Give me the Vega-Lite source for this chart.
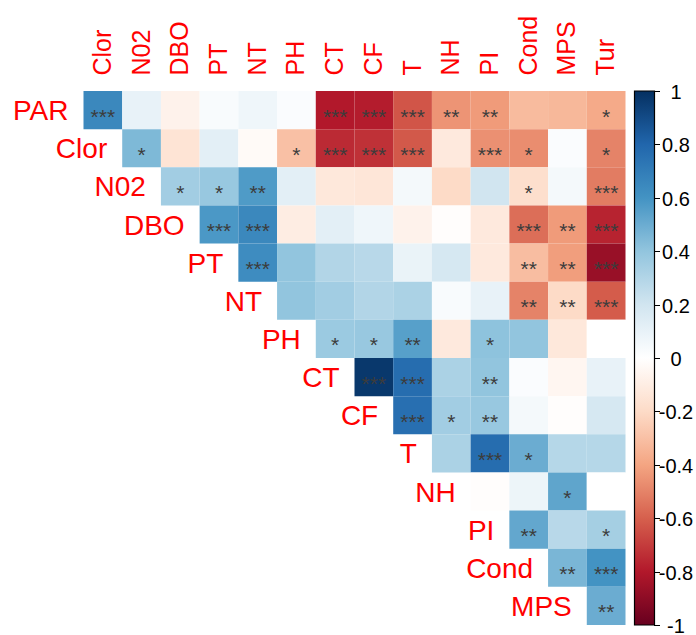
{
  "$schema": "https://vega.github.io/schema/vega-lite/v6.json",
  "autosize": "none",
  "width": 542,
  "height": 534,
  "padding": {"left": 83.5, "top": 91, "right": 70.5, "bottom": 10},
  "background": "white",
  "config": {"view": {"stroke": null}, "font": "Liberation Sans"},
  "datasets": {
    "cells": [
      {"r":"PAR","c":"Clor","v":0.65,"s":"***"},
      {"r":"PAR","c":"N02","v":0.10,"s":""},
      {"r":"PAR","c":"DBO","v":-0.07,"s":""},
      {"r":"PAR","c":"PT","v":0.03,"s":""},
      {"r":"PAR","c":"NT","v":0.07,"s":""},
      {"r":"PAR","c":"PH","v":0.02,"s":""},
      {"r":"PAR","c":"CT","v":-0.80,"s":"***"},
      {"r":"PAR","c":"CF","v":-0.79,"s":"***"},
      {"r":"PAR","c":"T","v":-0.63,"s":"***"},
      {"r":"PAR","c":"NH","v":-0.45,"s":"**"},
      {"r":"PAR","c":"PI","v":-0.43,"s":"**"},
      {"r":"PAR","c":"Cond","v":-0.32,"s":""},
      {"r":"PAR","c":"MPS","v":-0.33,"s":""},
      {"r":"PAR","c":"Tur","v":-0.38,"s":"*"},
      {"r":"Clor","c":"N02","v":0.45,"s":"*"},
      {"r":"Clor","c":"DBO","v":-0.15,"s":""},
      {"r":"Clor","c":"PT","v":0.12,"s":""},
      {"r":"Clor","c":"NT","v":-0.03,"s":""},
      {"r":"Clor","c":"PH","v":-0.30,"s":"*"},
      {"r":"Clor","c":"CT","v":-0.75,"s":"***"},
      {"r":"Clor","c":"CF","v":-0.73,"s":"***"},
      {"r":"Clor","c":"T","v":-0.62,"s":"***"},
      {"r":"Clor","c":"NH","v":-0.12,"s":""},
      {"r":"Clor","c":"PI","v":-0.46,"s":"***"},
      {"r":"Clor","c":"Cond","v":-0.47,"s":"*"},
      {"r":"Clor","c":"MPS","v":0.02,"s":""},
      {"r":"Clor","c":"Tur","v":-0.50,"s":"*"},
      {"r":"N02","c":"DBO","v":0.35,"s":"*"},
      {"r":"N02","c":"PT","v":0.38,"s":"*"},
      {"r":"N02","c":"NT","v":0.57,"s":"**"},
      {"r":"N02","c":"PH","v":0.12,"s":""},
      {"r":"N02","c":"CT","v":-0.13,"s":""},
      {"r":"N02","c":"CF","v":-0.14,"s":""},
      {"r":"N02","c":"T","v":0.05,"s":""},
      {"r":"N02","c":"NH","v":-0.20,"s":""},
      {"r":"N02","c":"PI","v":0.20,"s":""},
      {"r":"N02","c":"Cond","v":-0.18,"s":"*"},
      {"r":"N02","c":"MPS","v":0.05,"s":""},
      {"r":"N02","c":"Tur","v":-0.52,"s":"***"},
      {"r":"DBO","c":"PT","v":0.58,"s":"***"},
      {"r":"DBO","c":"NT","v":0.65,"s":"***"},
      {"r":"DBO","c":"PH","v":-0.10,"s":""},
      {"r":"DBO","c":"CT","v":0.12,"s":""},
      {"r":"DBO","c":"CF","v":0.07,"s":""},
      {"r":"DBO","c":"T","v":-0.07,"s":""},
      {"r":"DBO","c":"NH","v":-0.01,"s":""},
      {"r":"DBO","c":"PI","v":-0.12,"s":""},
      {"r":"DBO","c":"Cond","v":-0.56,"s":"***"},
      {"r":"DBO","c":"MPS","v":-0.43,"s":"**"},
      {"r":"DBO","c":"Tur","v":-0.77,"s":"***"},
      {"r":"PT","c":"NT","v":0.63,"s":"***"},
      {"r":"PT","c":"PH","v":0.40,"s":""},
      {"r":"PT","c":"CT","v":0.30,"s":""},
      {"r":"PT","c":"CF","v":0.28,"s":""},
      {"r":"PT","c":"T","v":0.09,"s":""},
      {"r":"PT","c":"NH","v":0.18,"s":""},
      {"r":"PT","c":"PI","v":-0.12,"s":""},
      {"r":"PT","c":"Cond","v":-0.31,"s":"**"},
      {"r":"PT","c":"MPS","v":-0.42,"s":"**"},
      {"r":"PT","c":"Tur","v":-0.87,"s":"***"},
      {"r":"NT","c":"PH","v":0.40,"s":""},
      {"r":"NT","c":"CT","v":0.35,"s":""},
      {"r":"NT","c":"CF","v":0.30,"s":""},
      {"r":"NT","c":"T","v":0.32,"s":""},
      {"r":"NT","c":"NH","v":0.03,"s":""},
      {"r":"NT","c":"PI","v":0.10,"s":""},
      {"r":"NT","c":"Cond","v":-0.50,"s":"**"},
      {"r":"NT","c":"MPS","v":-0.20,"s":"**"},
      {"r":"NT","c":"Tur","v":-0.61,"s":"***"},
      {"r":"PH","c":"CT","v":0.37,"s":"*"},
      {"r":"PH","c":"CF","v":0.38,"s":"*"},
      {"r":"PH","c":"T","v":0.55,"s":"**"},
      {"r":"PH","c":"NH","v":-0.12,"s":""},
      {"r":"PH","c":"PI","v":0.41,"s":"*"},
      {"r":"PH","c":"Cond","v":0.40,"s":""},
      {"r":"PH","c":"MPS","v":-0.13,"s":""},
      {"r":"PH","c":"Tur","v":0.00,"s":""},
      {"r":"CT","c":"CF","v":0.97,"s":"***"},
      {"r":"CT","c":"T","v":0.77,"s":"***"},
      {"r":"CT","c":"NH","v":0.32,"s":""},
      {"r":"CT","c":"PI","v":0.40,"s":"**"},
      {"r":"CT","c":"Cond","v":0.02,"s":""},
      {"r":"CT","c":"MPS","v":-0.05,"s":""},
      {"r":"CT","c":"Tur","v":0.10,"s":""},
      {"r":"CF","c":"T","v":0.76,"s":"***"},
      {"r":"CF","c":"NH","v":0.35,"s":"*"},
      {"r":"CF","c":"PI","v":0.38,"s":"**"},
      {"r":"CF","c":"Cond","v":0.05,"s":""},
      {"r":"CF","c":"MPS","v":-0.01,"s":""},
      {"r":"CF","c":"Tur","v":0.18,"s":""},
      {"r":"T","c":"NH","v":0.32,"s":""},
      {"r":"T","c":"PI","v":0.77,"s":"***"},
      {"r":"T","c":"Cond","v":0.50,"s":"*"},
      {"r":"T","c":"MPS","v":0.29,"s":""},
      {"r":"T","c":"Tur","v":0.29,"s":""},
      {"r":"NH","c":"PI","v":-0.01,"s":""},
      {"r":"NH","c":"Cond","v":0.08,"s":""},
      {"r":"NH","c":"MPS","v":0.53,"s":"*"},
      {"r":"NH","c":"Tur","v":0.00,"s":""},
      {"r":"PI","c":"Cond","v":0.52,"s":"**"},
      {"r":"PI","c":"MPS","v":0.28,"s":""},
      {"r":"PI","c":"Tur","v":0.34,"s":"*"},
      {"r":"Cond","c":"MPS","v":0.46,"s":"**"},
      {"r":"Cond","c":"Tur","v":0.60,"s":"***"},
      {"r":"MPS","c":"Tur","v":0.50,"s":"**"}
    ],
    "labels": [
      {"r":"PAR","c":"Clor"},
      {"r":"Clor","c":"N02"},
      {"r":"N02","c":"DBO"},
      {"r":"DBO","c":"PT"},
      {"r":"PT","c":"NT"},
      {"r":"NT","c":"PH"},
      {"r":"PH","c":"CT"},
      {"r":"CT","c":"CF"},
      {"r":"CF","c":"T"},
      {"r":"T","c":"NH"},
      {"r":"NH","c":"PI"},
      {"r":"PI","c":"Cond"},
      {"r":"Cond","c":"MPS"},
      {"r":"MPS","c":"Tur"}
    ]
  },
  "layer": [
    {
      "layer": [
        {
          "data": {"name": "cells"},
          "mark": {"type": "rect"},
          "encoding": {
            "x": {"field": "c", "type": "nominal", "sort": null,
              "scale": {"domain": ["Clor","N02","DBO","PT","NT","PH","CT","CF","T","NH","PI","Cond","MPS","Tur"], "paddingInner": 0, "paddingOuter": 0},
              "axis": {"orient": "top", "title": null, "labelAngle": -90, "labelFontSize": 25, "labelColor": "#FF0000", "labelFont": "Liberation Sans", "ticks": false, "domain": false, "labelPadding": 16}},
            "y": {"field": "r", "type": "nominal", "sort": null,
              "scale": {"domain": ["PAR","Clor","N02","DBO","PT","NT","PH","CT","CF","T","NH","PI","Cond","MPS"], "paddingInner": 0, "paddingOuter": 0},
              "axis": null},
            "color": {"field": "v", "type": "quantitative",
              "scale": {"domain": [-1,-0.8,-0.6,-0.4,-0.2,0,0.2,0.4,0.6,0.8,1],
                        "range": ["#67001F","#B2182B","#D6604D","#F4A582","#FDDBC7","#FFFFFF","#D1E5F0","#92C5DE","#4393C3","#2166AC","#053061"],
                        "interpolate": "rgb"},
              "legend": {"title": null, "orient": "none", "legendX": 551, "legendY": 0, "padding": 0,
                "gradientLength": 534, "gradientThickness": 20, "gradientStrokeColor": "black", "gradientStrokeWidth": 1.2,
                "values": [-1,1],
                "labelExpr": "''", "labelOpacity": 0}}
          }
        },
        {
          "data": {"name": "cells"},
          "mark": {"type": "text", "fontSize": 21, "color": "#3c3c3c", "baseline": "alphabetic", "dy": 13.5, "font": "Liberation Sans"},
          "encoding": {
            "x": {"field": "c", "type": "nominal", "sort": null},
            "y": {"field": "r", "type": "nominal", "sort": null},
            "text": {"field": "s"}
          }
        },
        {
          "data": {"name": "labels"},
          "mark": {"type": "text", "fontSize": 28, "color": "#FF0000", "align": "right", "baseline": "alphabetic", "dx": -15, "dy": 10, "font": "Liberation Sans"},
          "encoding": {
            "x": {"field": "c", "type": "nominal", "sort": null, "bandPosition": 0},
            "y": {"field": "r", "type": "nominal", "sort": null},
            "text": {"field": "r"}
          }
        }
      ]
    },
    {
      "data": {"name": "cells"},
      "mark": {"type": "rule", "opacity": 0},
      "encoding": {
        "y": {"field": "v", "type": "quantitative",
          "scale": {"domain": [-1, 1], "nice": false, "zero": false},
          "axis": {"orient": "right", "offset": 28, "title": null, "grid": false, "domain": false,
            "values": [-1,-0.8,-0.6,-0.4,-0.2,0,0.2,0.4,0.6,0.8,1],
            "labelExpr": "replace(format(datum.value, '~g'), '\u2212', '-')",
            "ticks": true, "tickSize": 6, "tickColor": "black", "tickWidth": 1,
            "labelFontSize": 20, "labelColor": "black", "labelFont": "Liberation Sans",
            "labelAlign": "center", "labelBaseline": "middle", "labelPadding": 16, "labelFlush": false, "labelOverlap": false, "labelOffset": 1.5}}
      }
    }
  ],
  "resolve": {"scale": {"y": "independent"}, "axis": {"y": "independent"}}
}
